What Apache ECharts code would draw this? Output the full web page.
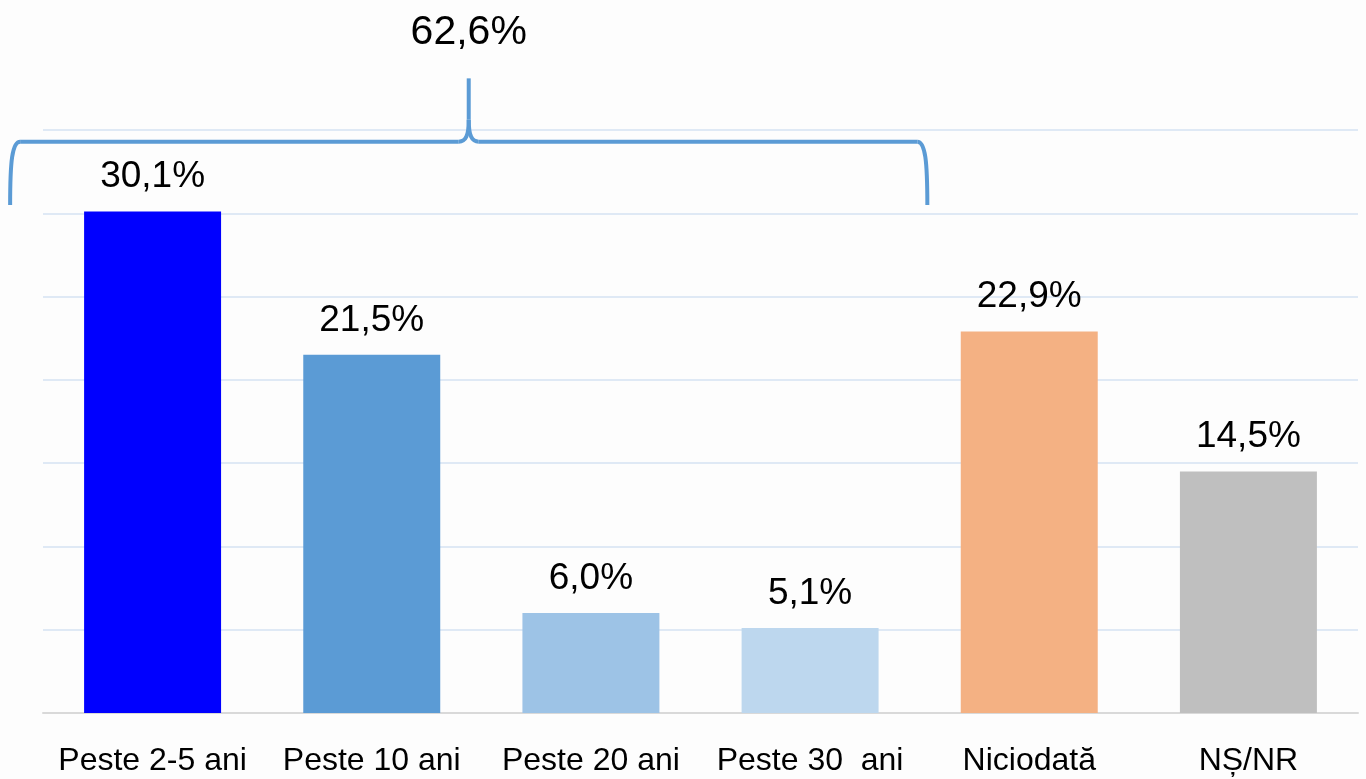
<!DOCTYPE html>
<html>
<head>
<meta charset="utf-8">
<script src="https://cdn.jsdelivr.net/npm/echarts@6/dist/echarts.min.js"></script>
<style>
  html, body { margin: 0; padding: 0; background: #fdfdfd; }
  #chart { width: 1366px; height: 779px; }
</style>
</head>
<body>
<div id="chart"></div>
<script>
// date
const categories = ["Peste 2-5 ani", "Peste 10 ani", "Peste 20 ani", "Peste 30  ani", "Niciodată", "NȘ/NR"];
const values = [30.1, 21.5, 6.0, 5.1, 22.9, 14.5];
const barColors = ["#0000ff", "#5b9bd5", "#9dc3e6", "#bdd7ee", "#f4b183", "#bfbfbf"];
const groupTotal = "62,6%";

const fontFamily = "'Liberation Sans', Arial, sans-serif";

let chartDom = document.getElementById("chart");
let myChart = echarts.init(chartDom);

let option = {
  backgroundColor: "#fdfdfd",
  animation: false,
  grid: { left: 43, right: 8, top: 130, bottom: 66 },
  xAxis: {
    type: "category",
    data: categories,
    axisLine: { lineStyle: { color: "#d9d9d9", width: 2 } },
    axisTick: { show: false },
    axisLabel: {
      color: "#000",
      fontSize: 32,
      fontFamily: fontFamily,
      margin: 32,
      interval: 0,
    },
  },
  yAxis: {
    type: "value",
    min: 0,
    max: 35,
    interval: 5,
    axisLabel: { show: false },
    axisLine: { show: false },
    axisTick: { show: false },
    splitLine: { lineStyle: { color: "#dfe9f5", width: 2 } },
  },
  series: [
    {
      type: "bar",
      barWidth: "62.5%",
      data: values.map((v, i) => ({ value: v, itemStyle: { color: barColors[i] } })),
      label: {
        show: true,
        position: "top",
        distance: 16,
        color: "#000",
        fontSize: 37,
        fontFamily: fontFamily,
        formatter: (p) => p.value.toFixed(1).replace(".", ",") + "%",
      },
    },
  ],
};
myChart.setOption(option);

// acolada peste primele patru categorii
function drawBrace() {
  let c0 = myChart.convertToPixel({ xAxisIndex: 0 }, 0);
  let c1 = myChart.convertToPixel({ xAxisIndex: 0 }, 1);
  let c3 = myChart.convertToPixel({ xAxisIndex: 0 }, 3);
  let band = c1 - c0;
  let x0 = c0 - 0.65 * band;
  let x1 = c3 + 0.535 * band;
  let xm = (x0 + x1) / 2;
  let yb = myChart.convertToPixel({ yAxisIndex: 0 }, 30.5);
  let yh = myChart.convertToPixel({ yAxisIndex: 0 }, 34.3);
  let yt = myChart.convertToPixel({ yAxisIndex: 0 }, 38.1);

  let ls = { stroke: "#5b9bd5", lineWidth: 4, fill: null };
  let curve = (a, b, c, d) => ({
    type: "bezierCurve",
    shape: { x1: a[0], y1: a[1], cpx1: b[0], cpy1: b[1], cpx2: c[0], cpy2: c[1], x2: d[0], y2: d[1] },
    style: ls,
  });
  let seg = (a, b) => ({
    type: "line",
    shape: { x1: a[0], y1: a[1], x2: b[0], y2: b[1] },
    style: ls,
  });

  myChart.setOption({
    graphic: [
      curve([x0, yb], [x0, yh + 20], [x0 + 2, yh], [x0 + 10, yh]),
      seg([x0 + 10, yh], [xm - 10, yh]),
      curve([xm - 10, yh], [xm - 3, yh], [xm, yh - 6], [xm, yh - 22]),
      seg([xm, yh - 22], [xm, yt]),
      curve([xm, yh - 22], [xm, yh - 6], [xm + 3, yh], [xm + 10, yh]),
      seg([xm + 10, yh], [x1 - 10, yh]),
      curve([x1 - 10, yh], [x1 - 2, yh], [x1, yh + 20], [x1, yb]),
      {
        type: "text",
        x: xm,
        y: yt - 46,
        style: {
          text: groupTotal,
          fill: "#000",
          fontSize: 41,
          fontFamily: fontFamily,
          align: "center",
          verticalAlign: "middle",
        },
      },
    ],
  });
}
drawBrace();
</script>
</body>
</html>
